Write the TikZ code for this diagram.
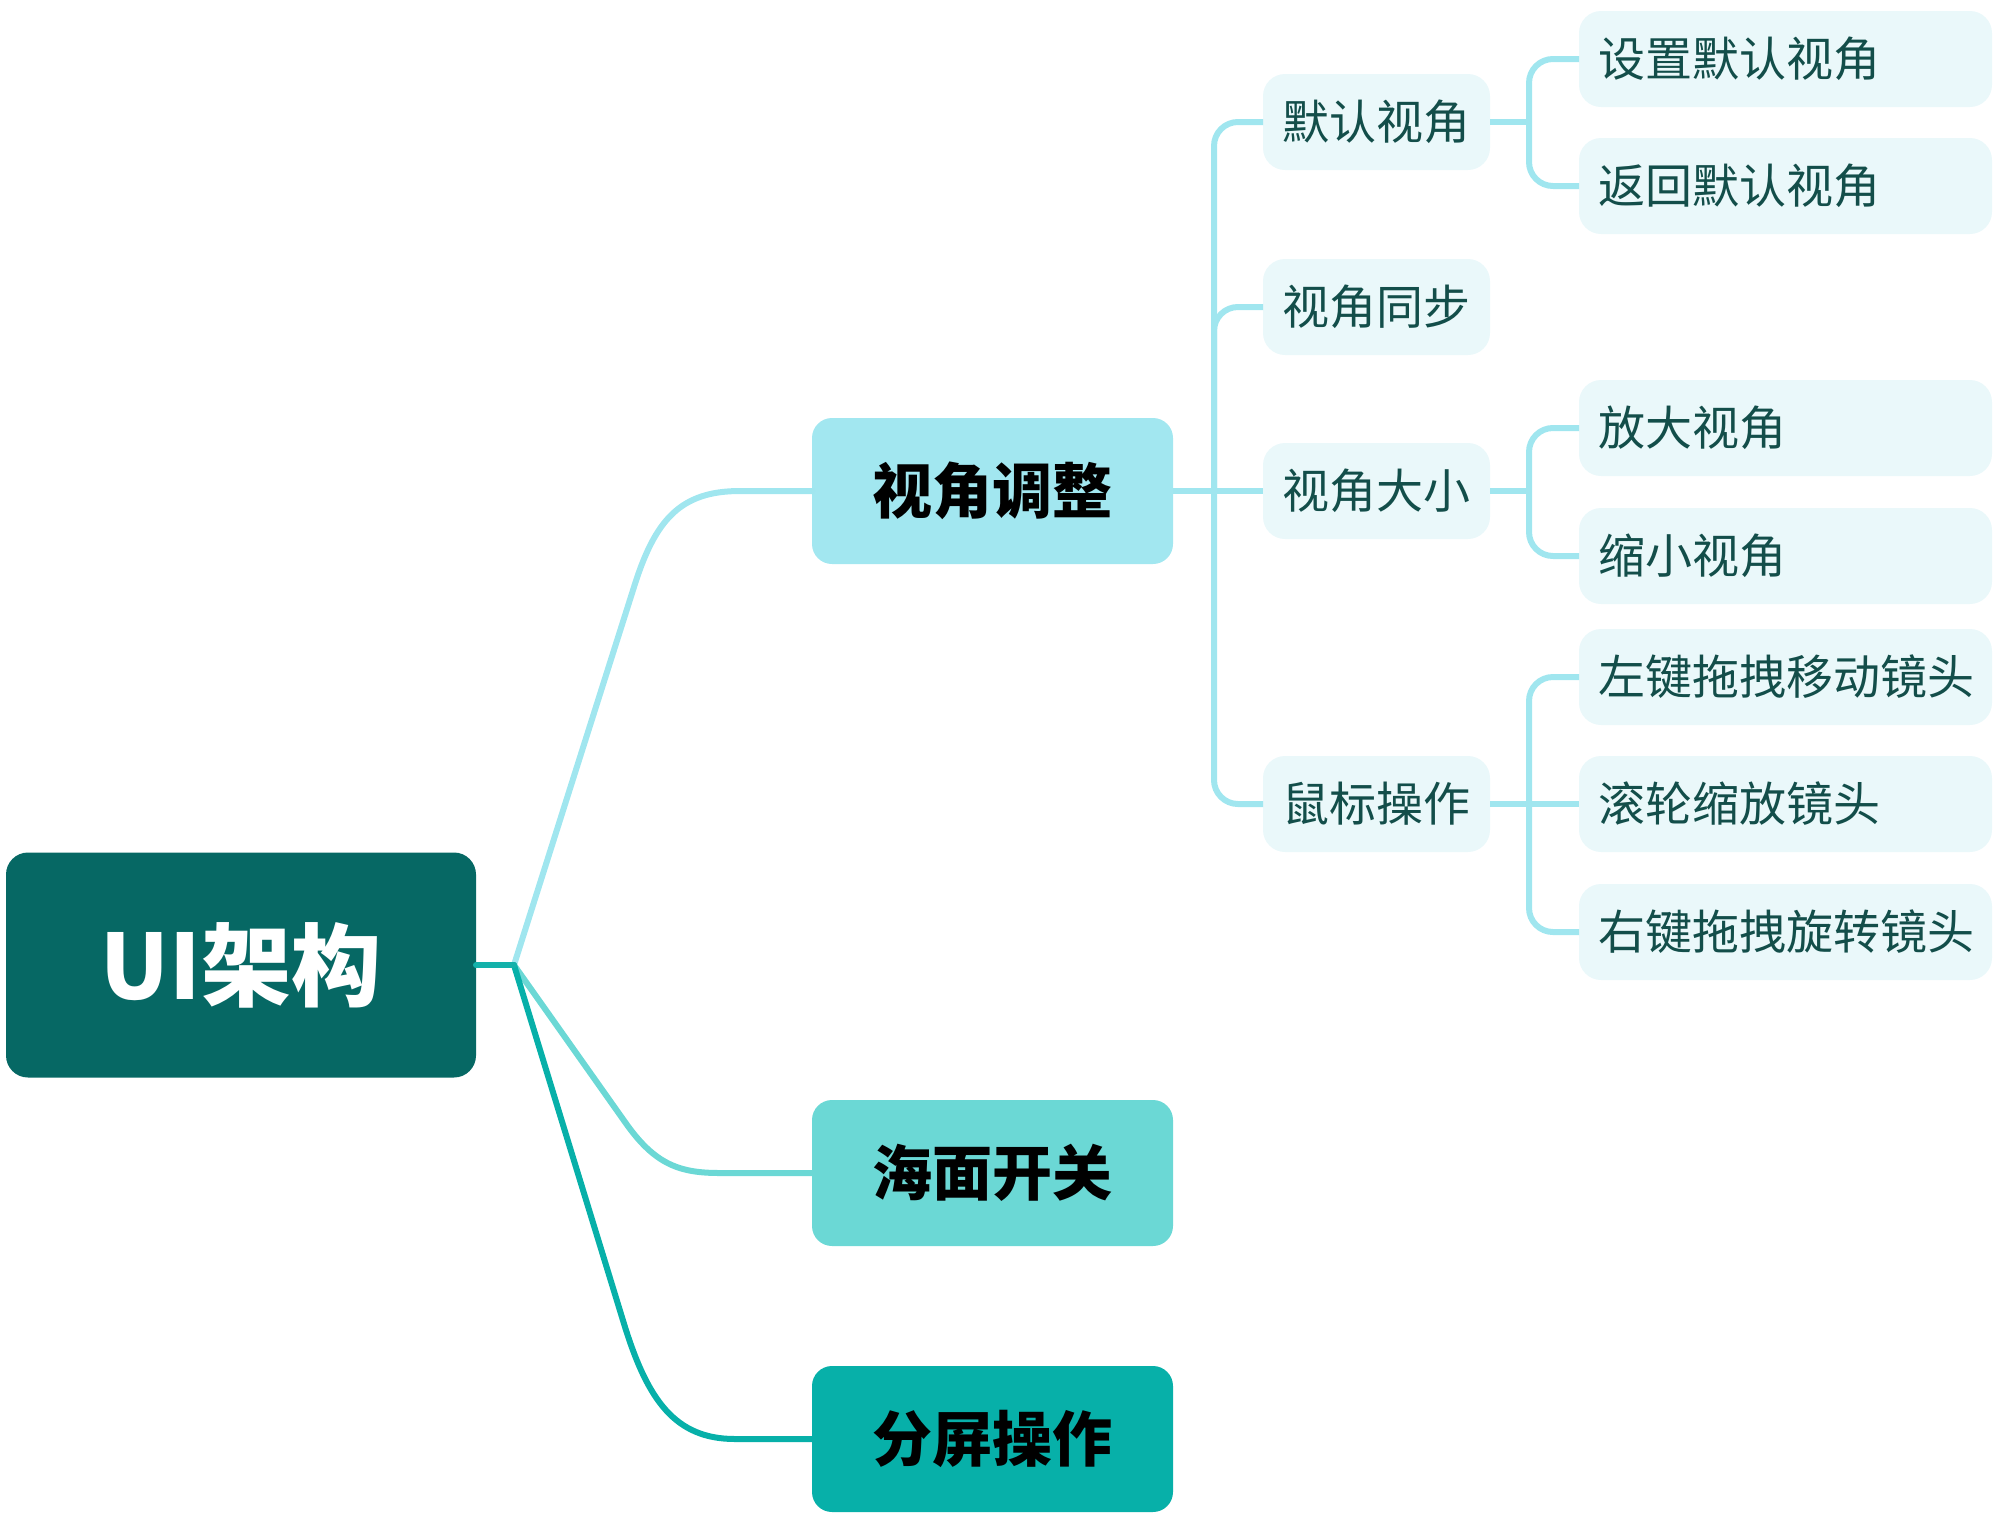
\documentclass[tikz,border=0pt]{standalone}
\usepackage{fontspec}
\setmainfont{Noto Sans CJK SC}
\definecolor{rootc}{HTML}{066864}
\definecolor{l1a}{HTML}{A2E7F0}
\definecolor{l1b}{HTML}{6BD8D5}
\definecolor{l1c}{HTML}{07B0A9}
\definecolor{stubc}{HTML}{13B1AA}
\definecolor{leaf}{HTML}{EAF8FA}
\definecolor{leaftext}{HTML}{134E4A}
\definecolor{lnA}{HTML}{A0E6EF}
\begin{document}
\begin{tikzpicture}[x=1pt,y=-1pt,
  every node/.style={inner sep=0pt, outer sep=0pt},
  rootbox/.style={fill=rootc, rounded corners=22pt, minimum width=470pt, minimum height=225pt, text=white, font=\fontsize{90}{100}\selectfont\bfseries},
  mainbox/.style={rounded corners=20pt, minimum width=361pt, minimum height=146pt, text=black, font=\fontsize{60}{66}\selectfont\bfseries},
  subbox/.style={fill=leaf, rounded corners=22pt, minimum height=96pt, text=leaftext, font=\fontsize{47}{52}\selectfont, align=left, inner xsep=19pt},
  l2box/.style={subbox, text width=189pt},
  l3box/.style={subbox, text width=375pt},
  link/.style={line width=6pt, rounded corners=24pt},
  curvelink/.style={line width=6pt, line cap=round}
]
\useasboundingbox (0,0) rectangle (2000,1516);

% nodes
\node[rootbox] (root) at (241,965) {UI架构};
\node[mainbox, fill=l1a] (v1) at (992.5,491) {视角调整};
\node[mainbox, fill=l1b] (v2) at (992.5,1173) {海面开关};
\node[mainbox, fill=l1c] (v3) at (992.5,1439) {分屏操作};

\node[l2box] (a1) at (1376.5,122) {默认视角};
\node[l2box] (a2) at (1376.5,307) {视角同步};
\node[l2box] (a3) at (1376.5,491) {视角大小};
\node[l2box] (a4) at (1376.5,804) {鼠标操作};

\node[l3box] (b1) at (1785.5,59) {设置默认视角};
\node[l3box] (b2) at (1785.5,186) {返回默认视角};
\node[l3box] (b3) at (1785.5,428) {放大视角};
\node[l3box] (b4) at (1785.5,556) {缩小视角};
\node[l3box] (b5) at (1785.5,677) {左键拖拽移动镜头};
\node[l3box] (b6) at (1785.5,804) {滚轮缩放镜头};
\node[l3box] (b7) at (1785.5,932) {右键拖拽旋转镜头};

% root connectors
\coordinate (B) at (514,965);
\draw[curvelink, lnA] (B) -- (634,587) .. controls (655,520) and (680,491) .. (740,491) -- (v1.west);
\draw[curvelink, l1b] (B) -- (625,1122) .. controls (655,1165) and (680,1173) .. (720,1173) -- (v2.west);
\draw[curvelink, l1c] (B) -- (625,1327) .. controls (648,1400) and (675,1439) .. (735,1439) -- (v3.west);
\draw[curvelink, stubc] (root.east) -- (B);

% level 2 connectors
\coordinate (J1) at (1214,491);
\draw[link, lnA] (v1.east) -- (J1);
\draw[link, lnA] (J1) |- (a1.west);
\draw[link, lnA] (J1) |- (a2.west);
\draw[link, lnA] (J1) -- (a3.west);
\draw[link, lnA] (J1) |- (a4.west);

% level 3 connectors
\coordinate (J2) at (1529,122);
\draw[link, lnA] (a1.east) -- (J2);
\draw[link, lnA] (J2) |- (b1.west);
\draw[link, lnA] (J2) |- (b2.west);

\coordinate (J3) at (1529,491);
\draw[link, lnA] (a3.east) -- (J3);
\draw[link, lnA] (J3) |- (b3.west);
\draw[link, lnA] (J3) |- (b4.west);

\coordinate (J4) at (1529,804);
\draw[link, lnA] (a4.east) -- (J4);
\draw[link, lnA] (J4) |- (b5.west);
\draw[link, lnA] (J4) -- (b6.west);
\draw[link, lnA] (J4) |- (b7.west);
\end{tikzpicture}
\end{document}
